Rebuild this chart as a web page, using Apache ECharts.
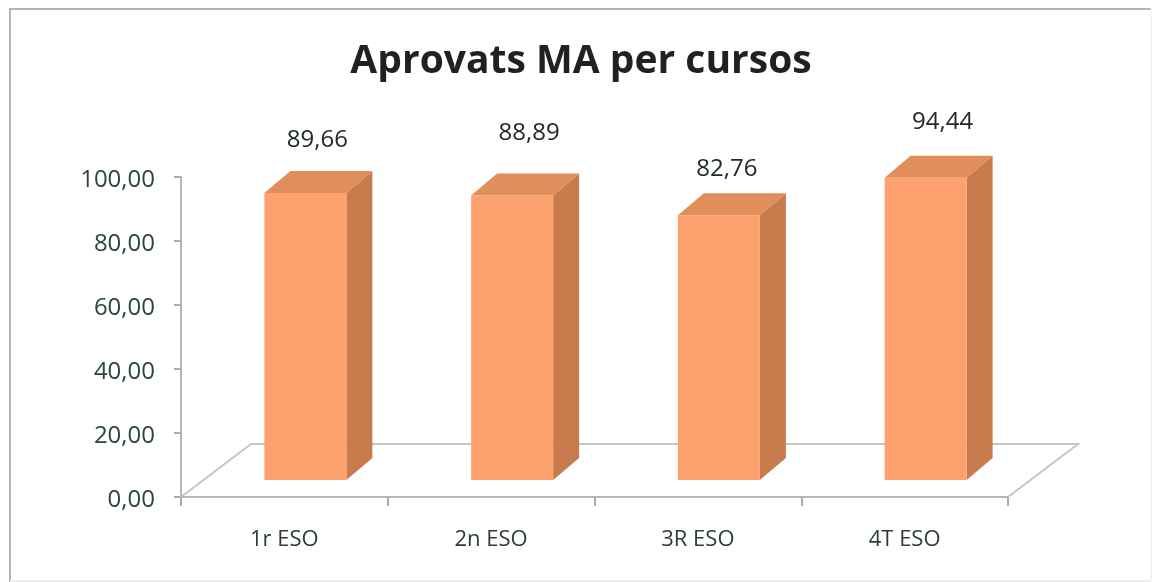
<!DOCTYPE html>
<html>
<head>
<meta charset="utf-8">
<style>
  html, body { margin: 0; padding: 0; background: #fff; }
  #chart { width: 1155px; height: 582px; }
</style>
<script src="https://cdn.jsdelivr.net/npm/echarts@6/dist/echarts.min.js"></script>
</head>
<body>
<div id="chart"></div>
<script>
const categories = ['1r ESO', '2n ESO', '3R ESO', '4T ESO']
const values = [89.66, 88.89, 82.76, 94.44]
const yTicks = [0, 20, 40, 60, 80, 100]

// fals 3D: el terra i les barres es desplacen respecte dels eixos
const floorDx = 70, floorDy = -53
const barDx = 21, barDy = -17, barW = 82, sideDx = 26, sideDy = -22
// les etiquetes no estan alineades amb la barra a l'original
const labelShift = [[12, -53], [17, -62], [8, -46], [17, -56]]

const comma = v => v.toFixed(2).replace('.', ',')
const font = '"Open Sans", "Noto Sans", sans-serif'

const chart = echarts.init(document.getElementById('chart'))
chart.setOption({
  animation: false,
  backgroundColor: '#fff',
  title: {
    text: 'Aprovats MA per cursos',
    left: 576,
    top: 37,
    textAlign: 'center',
    textStyle: { fontFamily: font, fontSize: 39, fontWeight: 'bold', color: '#1f2223' }
  },
  grid: { left: 181, right: 147, top: 177, bottom: 85 },
  xAxis: {
    type: 'category',
    data: categories,
    axisLine: { lineStyle: { color: '#b5b8b8', width: 2 } },
    axisTick: { show: true, length: 9, alignWithLabel: false, lineStyle: { color: '#a9acac', width: 2 } },
    axisLabel: { fontFamily: font, fontSize: 22, color: '#2f3c3c', margin: 32 }
  },
  yAxis: {
    type: 'value',
    min: yTicks[0],
    max: yTicks[yTicks.length - 1],
    interval: 20,
    axisLine: { show: true, lineStyle: { color: '#b5b8b8', width: 2 } },
    axisTick: { show: true, length: 7, lineStyle: { color: '#a9acac', width: 2 } },
    axisLabel: {
      margin: 26,
      formatter: v => '{a|' + comma(v) + '}',
      rich: {
        a: { fontFamily: font, fontSize: 24, color: '#2c4444', lineHeight: 30, padding: [6, 0, 0, 0] }
      }
    },
    splitLine: { show: false }
  },
  graphic: [
    { type: 'line', silent: true, shape: { x1: 9, y1: 9, x2: 1151, y2: 9 }, style: { stroke: '#b4b6b6', lineWidth: 2 } },
    { type: 'line', silent: true, shape: { x1: 10, y1: 9, x2: 10, y2: 582 }, style: { stroke: '#b4b6b6', lineWidth: 2 } },
    { type: 'line', silent: true, shape: { x1: 1151, y1: 9, x2: 1151, y2: 581 }, style: { stroke: '#f3f4f4', lineWidth: 2 } },
    { type: 'line', silent: true, shape: { x1: 10, y1: 581, x2: 1151, y2: 581 }, style: { stroke: '#eceded', lineWidth: 2 } }
  ],
  series: [
    {
      // terra
      type: 'custom',
      silent: true,
      z: 1,
      data: [[0]],
      renderItem: (params, api) => {
        const g = params.coordSys
        const y0 = api.coord([0, 0])[1]
        const xl = g.x, xr = g.x + g.width
        return {
          type: 'polyline',
          shape: { points: [[xl, y0], [xl + floorDx, y0 + floorDy], [xr + floorDx, y0 + floorDy], [xr, y0]] },
          style: { fill: 'none', stroke: '#c3c6c6', lineWidth: 2 }
        }
      }
    },
    {
      type: 'custom',
      z: 2,
      data: values.map((v, i) => [i, v]),
      encode: { x: 0, y: 1 },
      renderItem: (params, api) => {
        const i = api.value(0)
        const top = api.coord([i, api.value(1)])
        const base = api.coord([i, 0])
        const l = top[0] + barDx - barW / 2, r = l + barW
        const t = top[1] + barDy, b = base[1] + barDy
        const shift = labelShift[i]
        return {
          type: 'group',
          children: [
            {
              type: 'polygon',
              shape: { points: [[r, t], [r + sideDx, t + sideDy], [r + sideDx, b + sideDy], [r, b]] },
              style: { fill: '#c87b4c' }
            },
            {
              type: 'polygon',
              shape: { points: [[l, t], [l + sideDx, t + sideDy], [r + sideDx, t + sideDy], [r, t]] },
              style: { fill: '#e08e5a' }
            },
            {
              type: 'rect',
              shape: { x: l, y: t, width: barW, height: b - t },
              style: { fill: '#fda26f' }
            },
            {
              type: 'text',
              style: {
                x: (l + r) / 2 + shift[0],
                y: t + shift[1],
                text: comma(api.value(1)),
                align: 'center',
                verticalAlign: 'middle',
                fontFamily: font,
                fontSize: 24,
                fill: '#222a2a'
              }
            }
          ]
        }
      }
    }
  ]
})
</script>
</body>
</html>
